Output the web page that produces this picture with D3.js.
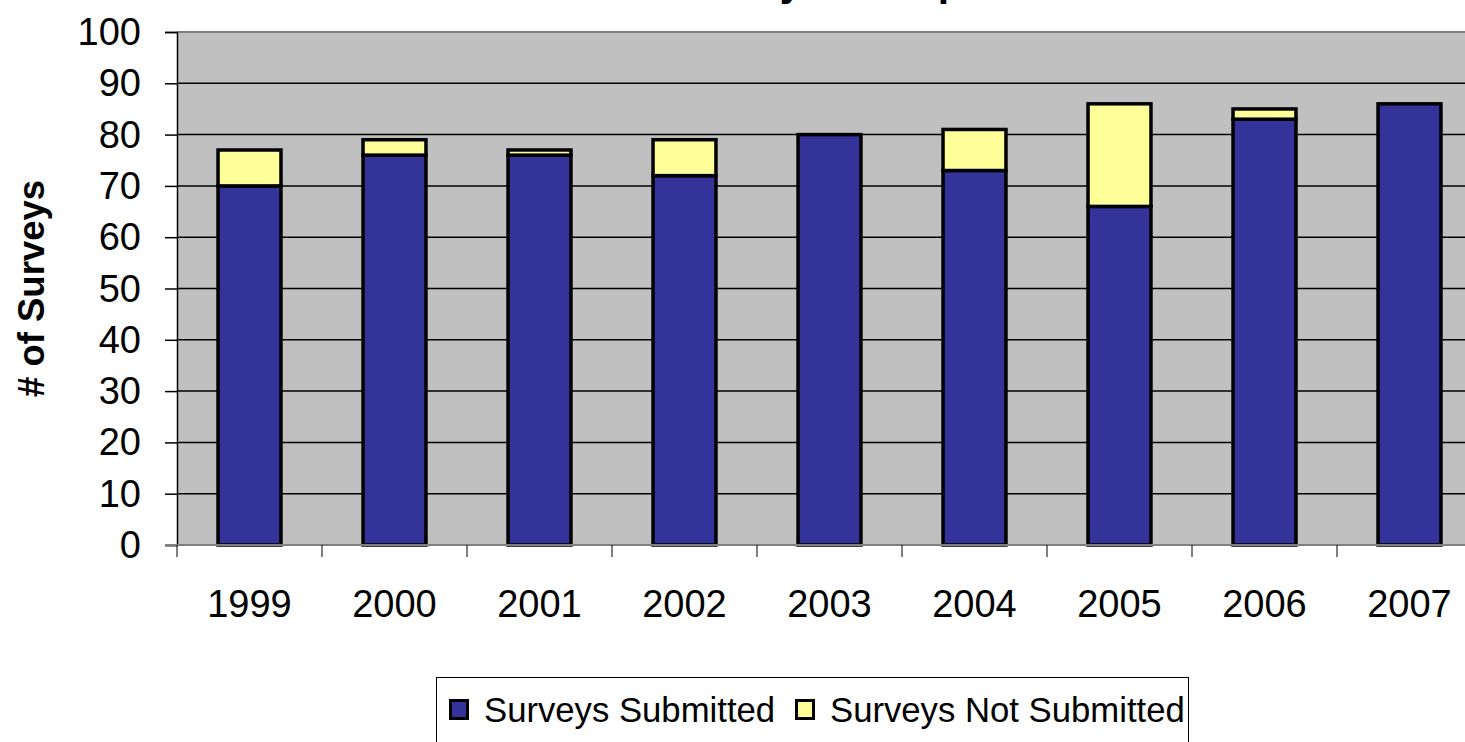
<!DOCTYPE html>
<html lang="en">
<head>
  <meta charset="UTF-8">
  <title>Survey Participation</title>
  <script src="https://d3js.org/d3.v7.min.js"></script>
  <style>
    body { margin: 0; background: #fff; }
    svg { display: block; font-family: Arial, "Liberation Sans", sans-serif; }
  </style>
</head>
<body>
<div id="chart-container"></div>
<script>
var years = ["1999", "2000", "2001", "2002", "2003", "2004", "2005", "2006", "2007"];
var submitted = [70, 76, 76, 72, 80, 73, 66, 83, 86];
var notSubmitted = [7, 3, 1, 7, 0, 8, 20, 2, 0];
var seriesNames = ["Surveys Submitted", "Surveys Not Submitted"];
var seriesColors = ["#333399", "#FFFF99"];
var yTicks = [0, 10, 20, 30, 40, 50, 60, 70, 80, 90, 100];

var W = 1465, H = 742;
var plotLeft = 177, plotRight = 1482, plotTop = 32, plotBottom = 545;

var svg = d3.select("#chart-container")
  .append("svg")
  .attr("width", W)
  .attr("height", H);

var rows = years.map(function(y, i) {
  return { year: y, submitted: submitted[i], notSubmitted: notSubmitted[i] };
});
var stack = d3.stack().keys(["submitted", "notSubmitted"]);
var layers = stack(rows);

var x = d3.scaleBand()
  .domain(years)
  .range([plotLeft, plotRight])
  .paddingInner(0.566)
  .paddingOuter(0.283);

var y = d3.scaleLinear()
  .domain([0, 100])
  .range([plotBottom, plotTop]);

// title (mostly above the visible area)
svg.append("text")
  .attr("x", 667)
  .attr("y", -4)
  .style("font-size", "40.6px")
  .style("font-weight", "bold")
  .text("Survey Participation");

// plot background
svg.append("rect")
  .attr("x", plotLeft)
  .attr("y", plotTop)
  .attr("width", plotRight - plotLeft)
  .attr("height", plotBottom - plotTop)
  .attr("fill", "#C0C0C0");

// gridlines
svg.append("g")
  .selectAll("line")
  .data(yTicks.filter(function(d) { return d > 0 && d < 100; }))
  .join("line")
  .attr("x1", plotLeft)
  .attr("x2", plotRight)
  .attr("y1", function(d) { return y(d); })
  .attr("y2", function(d) { return y(d); })
  .attr("stroke", "#000")
  .attr("stroke-width", 1.5);

// top border of plot
svg.append("line")
  .attr("x1", plotLeft).attr("x2", plotRight)
  .attr("y1", plotTop).attr("y2", plotTop)
  .attr("stroke", "#808080")
  .attr("stroke-width", 2);

// bars
svg.append("g")
  .selectAll("g")
  .data(layers)
  .join("g")
  .attr("fill", function(d, i) { return seriesColors[i]; })
  .selectAll("rect")
  .data(function(d) { return d.filter(function(s) { return s[1] - s[0] > 0; }); })
  .join("rect")
  .attr("x", function(d) { return x(d.data.year); })
  .attr("y", function(d) { return y(d[1]); })
  .attr("width", x.bandwidth())
  .attr("height", function(d) { return y(d[0]) - y(d[1]); })
  .attr("stroke", "#000")
  .attr("stroke-width", 3.5);

// y axis
var yAxis = svg.append("g")
  .attr("transform", "translate(" + plotLeft + ",0)")
  .call(d3.axisLeft(y).tickValues(yTicks).tickSize(12).tickPadding(24));
yAxis.select(".domain").attr("stroke", "#000").attr("stroke-width", 1.5);
yAxis.selectAll(".tick line").attr("stroke", "#000").attr("stroke-width", 1.5);
yAxis.selectAll(".tick text")
  .style("font-size", "38px")
  .style("font-family", "Arial, 'Liberation Sans', sans-serif")
  .attr("fill", "#000")
  .attr("dy", "0.33em");

// x axis (category boundary ticks)
var boundaries = years.map(function(d) { return x(d) - x.step() * x.paddingInner() / 2; })
  .concat([plotRight]);
svg.append("line")
  .attr("x1", plotLeft - 12).attr("x2", plotRight)
  .attr("y1", plotBottom).attr("y2", plotBottom)
  .attr("stroke", "#808080")
  .attr("stroke-width", 2);
svg.append("g")
  .selectAll("line")
  .data(boundaries)
  .join("line")
  .attr("x1", function(d) { return d; })
  .attr("x2", function(d) { return d; })
  .attr("y1", plotBottom)
  .attr("y2", plotBottom + 12)
  .attr("stroke", "#000")
  .attr("stroke-width", 1);

svg.append("g")
  .selectAll("text")
  .data(years)
  .join("text")
  .attr("x", function(d) { return x(d) + x.bandwidth() / 2; })
  .attr("y", 617)
  .attr("text-anchor", "middle")
  .style("font-size", "38px")
  .text(function(d) { return d; });

// y axis title
svg.append("text")
  .attr("transform", "translate(44," + ((plotTop + plotBottom) / 2) + ") rotate(-90)")
  .attr("text-anchor", "middle")
  .style("font-size", "36.5px")
  .style("font-weight", "bold")
  .text("# of Surveys");

// legend
var legend = svg.append("g");
legend.append("rect")
  .attr("x", 436.5)
  .attr("y", 677.5)
  .attr("width", 752)
  .attr("height", 100)
  .attr("fill", "#fff")
  .attr("stroke", "#000")
  .attr("stroke-width", 1);

var legendX = [449, 795];
var items = legend.selectAll("g.item")
  .data(seriesNames)
  .join("g")
  .attr("class", "item")
  .attr("transform", function(d, i) { return "translate(" + legendX[i] + ",0)"; });
items.append("rect")
  .attr("x", 1.5)
  .attr("y", 700.5)
  .attr("width", 17)
  .attr("height", 18)
  .attr("fill", function(d, i) { return seriesColors[i]; })
  .attr("stroke", "#000")
  .attr("stroke-width", 3);
items.append("text")
  .attr("x", 35)
  .attr("y", 722)
  .style("font-size", "34.7px")
  .text(function(d) { return d; });
</script>
</body>
</html>
